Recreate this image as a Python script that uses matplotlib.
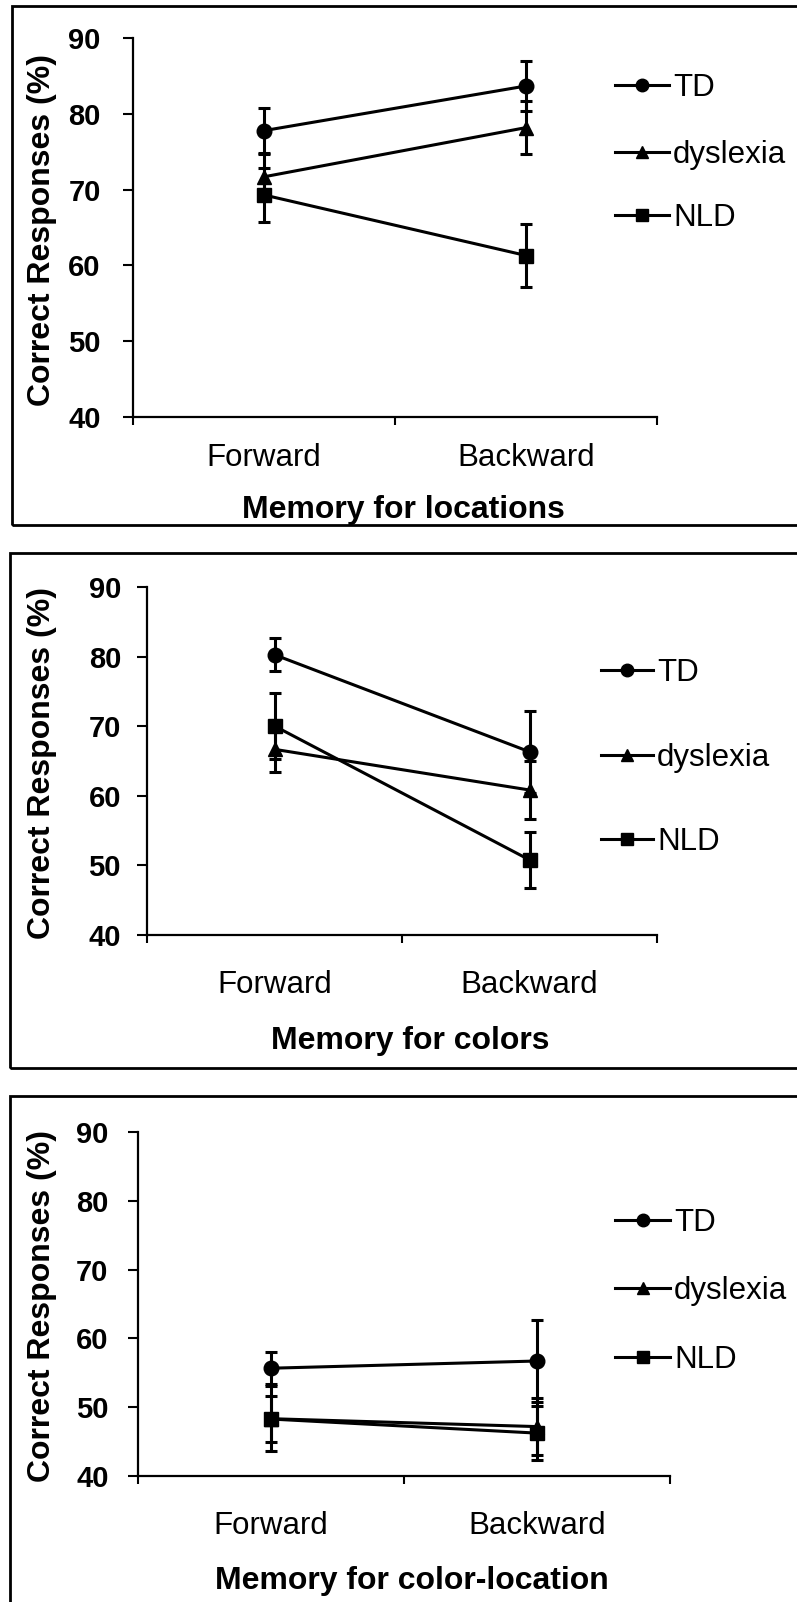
import matplotlib
matplotlib.use("Agg")
import matplotlib.pyplot as plt
from matplotlib.lines import Line2D
from matplotlib.patches import Rectangle

plt.rcParams['font.family'] = ['Liberation Sans', 'DejaVu Sans']

# categories and groups
conditions = ["Forward", "Backward"]
groups = ["TD", "dyslexia", "NLD"]
markers = ["o", "^", "s"]

# memory for locations (% correct, mean and SE)
loc_td = [77.8, 83.7]
loc_td_err = [3.0, 3.3]
loc_dys = [71.7, 78.2]
loc_dys_err = [3.0, 3.5]
loc_nld = [69.3, 61.3]
loc_nld_err = [3.6, 4.2]

# memory for colors
col_td = [80.3, 66.35]
col_td_err = [2.35, 5.9]
col_dys = [66.7, 60.85]
col_dys_err = [3.3, 4.1]
col_nld = [70.05, 50.8]
col_nld_err = [4.7, 4.05]

# memory for color-location
cl_td = [55.65, 56.7]
cl_td_err = [2.33, 5.9]
cl_dys = [48.3, 47.15]
cl_dys_err = [4.7, 4.2]
cl_nld = [48.25, 46.2]
cl_nld_err = [3.4, 3.9]

titles = ["Memory for locations", "Memory for colors", "Memory for color-location"]
yticks = [40, 50, 60, 70, 80, 90]

panels = [
    (titles[0], [loc_td, loc_dys, loc_nld], [loc_td_err, loc_dys_err, loc_nld_err]),
    (titles[1], [col_td, col_dys, col_nld], [col_td_err, col_dys_err, col_nld_err]),
    (titles[2], [cl_td, cl_dys, cl_nld], [cl_td_err, cl_dys_err, cl_nld_err]),
]

W, H = 797, 1602
fig = plt.figure(figsize=(W / 100, H / 100), dpi=100)


def fx(x):
    return x / W


def fy(y):
    return 1 - y / H


# layout per panel, in pixels:
# axes (x0, ytop, x1, ybottom), box (left, top, bottom), legend (line x0, x1, rows),
# ylabel x, xtick pad, ytick pad, title top
layout = [
    dict(ax=(133, 38.3, 657, 416.7), box=(12, 6, 525), leg=(615, 669, [85, 152, 215]),
         ylab=42, xpad=19, ypad=16, title_y=495),
    dict(ax=(147, 587.3, 657, 935), box=(10, 553, 1068), leg=(601, 653, [670, 755, 839]),
         ylab=42, xpad=25.5, ypad=11.5, title_y=1026),
    dict(ax=(138, 1132.3, 670, 1475.7), box=(10, 1096, 1640), leg=(615, 670, [1220, 1288, 1357]),
         ylab=42, xpad=25.5, ypad=14, title_y=1566),
]

for (title, means, errs), lay in zip(panels, layout):
    x0, yt, x1, yb = lay["ax"]
    ax = fig.add_axes([fx(x0), fy(yb), (x1 - x0) / W, (yb - yt) / H])

    xs = list(range(len(conditions)))
    for name, m, mean, err in zip(groups, markers, means, errs):
        ax.errorbar(xs, mean, yerr=err, color="black", lw=2.2, marker=m, ms=10.5,
                    elinewidth=2.2, capsize=4.3, capthick=2.2, label=name,
                    clip_on=False, zorder=3)

    ax.set_xlim(-0.5, 1.5)
    ax.set_ylim(40, 90)
    ax.set_yticks(yticks)
    ax.set_yticklabels([str(t) for t in yticks], fontsize=21, fontweight="bold")
    ax.tick_params(axis="y", length=7.2, width=1.5, pad=lay["ypad"])

    # category boundaries as major ticks, names on minor ticks
    ax.set_xticks([-0.5, 0.5, 1.5])
    ax.set_xticklabels([])
    ax.tick_params(axis="x", which="major", length=5.8, width=1.5)
    ax.set_xticks(xs, minor=True)
    ax.set_xticklabels(conditions, minor=True, fontsize=22.5)
    ax.tick_params(axis="x", which="minor", length=0, pad=lay["xpad"])

    for s in ["top", "right"]:
        ax.spines[s].set_visible(False)
    for s in ["left", "bottom"]:
        ax.spines[s].set_linewidth(1.6)

    ax.set_xlabel(title, fontsize=23, fontweight="bold", va="top")
    ax.xaxis.set_label_coords(fx((x0 + x1) / 2 + 8), fy(lay["title_y"]), transform=fig.transFigure)
    ax.set_ylabel("Correct Responses (%)", fontsize=23, fontweight="bold", va="center")
    ax.yaxis.set_label_coords(fx(lay["ylab"]), fy((yt + yb) / 2 + 2), transform=fig.transFigure)

    # legend entries to the right of the plot
    lx0, lx1, rows = lay["leg"]
    for name, m, ry in zip(groups, markers, rows):
        fig.add_artist(Line2D([fx(lx0), fx((lx0 + lx1) / 2), fx(lx1)], [fy(ry)] * 3,
                              transform=fig.transFigure, color="black", lw=2.2,
                              marker=m, ms=9, markevery=[1]))
        fig.text(fx(lx1 + 4), fy(ry + 11), name, fontsize=22.5, va="baseline", ha="left")

    # frame around the panel
    bl, bt, bb = lay["box"]
    fig.add_artist(Rectangle((fx(bl), fy(bb)), fx(900 - bl), (bb - bt) / H,
                             transform=fig.transFigure, fill=False, lw=2.0,
                             edgecolor="black"))

fig.savefig("out.png", dpi=100)
